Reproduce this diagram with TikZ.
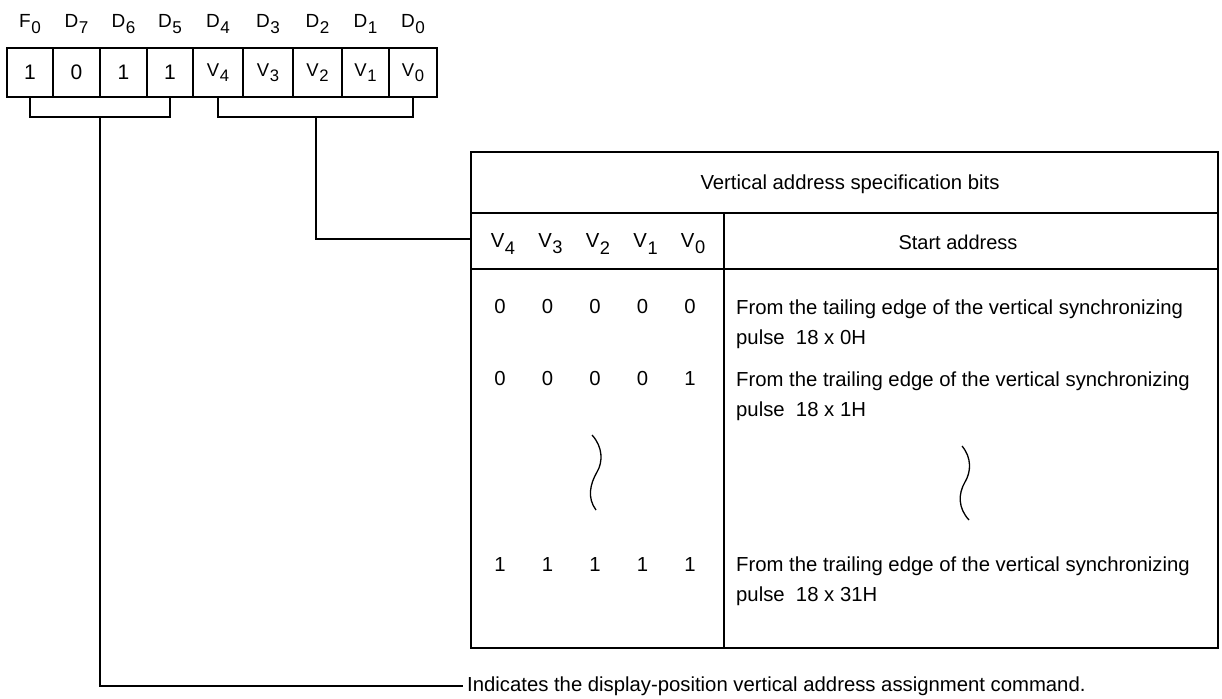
\documentclass[tikz,border=0pt]{standalone}
\usepackage{fontspec}
\setmainfont{Liberation Sans}
\usetikzlibrary{calc}
\newcommand\Sb[2]{#1\kern0.6pt\raisebox{-0.3em}{\scalebox{0.9}{#2}}}
\newcommand\celldigit[1]{{\fontsize{21}{22}\selectfont #1}}
\tikzset{
  cell/.style={draw, line width=2.6pt, minimum height=49pt, inner sep=0pt, anchor=center,
    font=\fontsize{18.5}{20}\selectfont},
  lab/.style={inner sep=0pt, font=\fontsize{19}{21}\selectfont},
  conn/.style={line width=2pt},
  frame/.style={line width=2.8pt},
  rule/.style={line width=2.3pt},
  txt/.style={inner sep=0pt, anchor=west, font=\fontsize{20.3}{22}\selectfont},
  bit/.style={inner sep=0pt, font=\fontsize{20.3}{22}\selectfont},
  wave/.style={line width=1.3pt}
}
\begin{document}
\begin{tikzpicture}[x=1pt,y=-1pt]
\useasboundingbox (0,0) rectangle (1222,698);
% register cells
\foreach \xa/\xb/\t/\l [count=\i] in {
  7/53/{\celldigit{1}}/{\Sb{F}{0}}, 53/100/{\celldigit{0}}/{\Sb{D}{7}}, 100/147/{\celldigit{1}}/{\Sb{D}{6}}, 147/193/{\celldigit{1}}/{\Sb{D}{5}},
  193/243/{\Sb{V}{4}}/{\Sb{D}{4}}, 243/293/{\Sb{V}{3}}/{\Sb{D}{3}}, 293/342/{\Sb{V}{2}}/{\Sb{D}{2}},
  342/389/{\Sb{V}{1}}/{\Sb{D}{1}}, 389/437/{\Sb{V}{0}}/{\Sb{D}{0}}} {
  \pgfmathsetmacro\w{\xb-\xa}
  \pgfmathsetmacro\cx{(\xa+\xb)/2}
  \node[cell, minimum width=\w pt] (c\i) at (\cx,72.5) {\t};
  \node[lab] (l\i) at (\cx,24) {\l};
}
% brackets
\coordinate (bl) at ($(c1.south)!0.5!(c4.south)+(0,19)$);
\coordinate (br) at ($(c5.south)!0.5!(c9.south)+(0,19)$);
\draw[conn] (c1.south) -- ++(0,19) -| (c4.south);
\draw[conn] (c5.south) -- ++(0,19) -| (c9.south);
% table
\draw[frame] (471,152) rectangle (1218,648);
\draw[frame] (471,213) -- (1218,213);
\draw[frame] (471,269) -- (1218,269);
\draw[rule] (724,213) -- (724,648);
\coordinate (tin) at (471,239);
\node[inner sep=0pt, font=\fontsize{20.3}{22}\selectfont] (hdr) at (850,184) {Vertical address specification bits};
\node[inner sep=0pt, font=\fontsize{20}{22}\selectfont] (sa) at (958,242) {Start address};
\foreach \v [count=\k from 0] in {4,3,2,1,0} {
  \node[bit] (h\k) at (503+47.5*\k,244) {\Sb{V}{\v}};
}
\foreach \r/\y/\bits in {a/307/{0,0,0,0,0}, b/379/{0,0,0,0,1}, c/565/{1,1,1,1,1}} {
  \foreach \d [count=\k from 0] in \bits {
    \node[bit] (\r\k) at (500+47.5*\k,\y) {\d};
  }
}
\node[txt] (ta1) at (736,309) {From the tailing edge of the vertical synchronizing};
\node[txt] (ta2) at (736,339) {pulse\ \ 18 x 0H};
\node[txt] (tb1) at (736,381) {From the trailing edge of the vertical synchronizing};
\node[txt] (tb2) at (736,411) {pulse\ \ 18 x 1H};
\node[txt] (tc1) at (736,566) {From the trailing edge of the vertical synchronizing};
\node[txt] (tc2) at (736,596) {pulse\ \ 18 x 31H};
% waves
\draw[wave] (592,435) .. controls (603,447) and (603,462) .. (597,472) .. controls (590,484) and (587,498) .. (596,510);
\draw[wave] (962,446) .. controls (972,458) and (971,472) .. (965,482) .. controls (958,494) and (958,508) .. (969,520);
% connectors
\draw[conn] (br) |- (tin);
\node[txt, inner sep=4pt] (note) at (463,686) {Indicates the display-position vertical address assignment command.};
\draw[conn] (bl) |- (note.west);
\end{tikzpicture}
\end{document}
